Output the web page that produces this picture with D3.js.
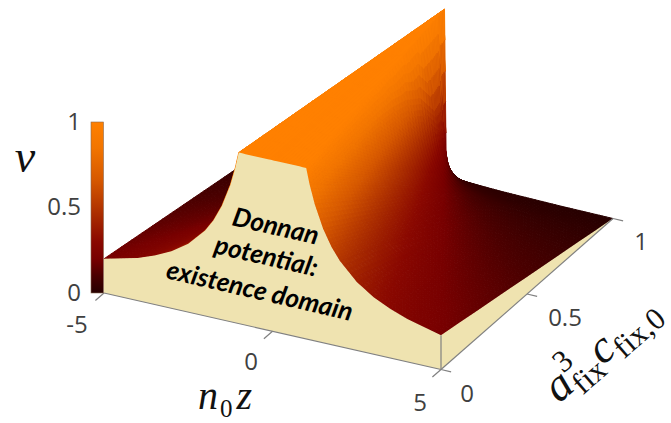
<!DOCTYPE html>
<html>
<head>
<meta charset="utf-8">
<script src="https://cdn.jsdelivr.net/npm/d3@7"></script>
<style>
body { margin: 0; background: #fff; }
svg { display: block; }
</style>
</head>
<body>
<div id="chart"></div>
<script>
// values
const zColumns = [0, 0.05, 0.1, 0.2, 0.3, 0.4, 0.5, 0.6, 0.7, 0.8, 0.9, 1, 1.1, 1.25, 1.5, 1.75, 2, 2.5, 3, 3.5, 4, 5];
const aRows = [0, 0.1, 0.2, 0.3, 0.4, 0.5, 0.6, 0.7, 0.8, 0.9, 0.95, 1];
// nu for z >= 0, the left half of the surface mirrors it
const nuRows = [
  [1, 1, 1, 1, 1, 1, 1, 1, 1, 1, 1, 1, 0.909, 0.8, 0.667, 0.571, 0.5, 0.4, 0.333, 0.286, 0.25, 0.2],
  [1, 1, 1, 1, 1, 1, 1, 1, 1, 1, 1, 0.9, 0.818, 0.72, 0.6, 0.514, 0.45, 0.36, 0.3, 0.257, 0.225, 0.18],
  [1, 1, 1, 1, 1, 1, 1, 1, 1, 1, 0.889, 0.8, 0.727, 0.64, 0.533, 0.457, 0.4, 0.32, 0.267, 0.229, 0.2, 0.16],
  [1, 1, 1, 1, 1, 1, 1, 1, 1, 0.875, 0.778, 0.7, 0.636, 0.56, 0.467, 0.4, 0.35, 0.28, 0.233, 0.2, 0.175, 0.14],
  [1, 1, 1, 1, 1, 1, 1, 1, 0.857, 0.75, 0.667, 0.6, 0.545, 0.48, 0.4, 0.343, 0.3, 0.24, 0.2, 0.171, 0.15, 0.12],
  [1, 1, 1, 1, 1, 1, 1, 0.833, 0.714, 0.625, 0.556, 0.5, 0.455, 0.4, 0.333, 0.286, 0.25, 0.2, 0.167, 0.143, 0.125, 0.1],
  [1, 1, 1, 1, 1, 1, 0.8, 0.667, 0.571, 0.5, 0.444, 0.4, 0.364, 0.32, 0.267, 0.229, 0.2, 0.16, 0.133, 0.114, 0.1, 0.08],
  [1, 1, 1, 1, 1, 0.75, 0.6, 0.5, 0.429, 0.375, 0.333, 0.3, 0.273, 0.24, 0.2, 0.171, 0.15, 0.12, 0.1, 0.086, 0.075, 0.06],
  [1, 1, 1, 1, 0.667, 0.5, 0.4, 0.333, 0.286, 0.25, 0.222, 0.2, 0.182, 0.16, 0.133, 0.114, 0.1, 0.08, 0.067, 0.057, 0.05, 0.04],
  [1, 1, 1, 0.5, 0.333, 0.25, 0.2, 0.167, 0.143, 0.125, 0.111, 0.1, 0.091, 0.08, 0.067, 0.057, 0.05, 0.04, 0.033, 0.029, 0.025, 0.02],
  [1, 1, 0.5, 0.25, 0.167, 0.125, 0.1, 0.083, 0.071, 0.063, 0.056, 0.05, 0.045, 0.04, 0.033, 0.029, 0.025, 0.02, 0.017, 0.014, 0.013, 0.01],
  [1, 0.1, 0.06, 0.035, 0.028, 0.024, 0.021, 0.02, 0.019, 0.018, 0.017, 0.016, 0.015, 0.014, 0.012, 0.01, 0.009, 0.007, 0.005, 0.003, 0.002, 0]
];
const colorStops = [0, 0.1, 0.2, 0.3, 0.45, 0.66, 0.85, 1];
const colorValues = ["#260000", "#4a0000", "#780000", "#8a0800", "#a82a00", "#d65800", "#f27500", "#ff8000"];
const zTicks = [-5, 0, 5];
const aTicks = [0, 0.5, 1];
const nuTicks = [0, 0.5, 1];
const noteLines = ["Donnan", "potential:", "existence domain"];

const width = 671, height = 423;
const wallColor = "#efe3b0";
const tickColor = "#808080";
const textColor = "#404040";

// oblique projection: each data axis moves the pixel by a fixed amount
const origin = { x: 104, y: 293 };
const zX = d3.scaleLinear().domain([-5, 5]).range([0, 337]);
const zY = d3.scaleLinear().domain([-5, 5]).range([0, 76.5]);
const aX = d3.scaleLinear().domain([0, 1]).range([0, 172]);
const aY = d3.scaleLinear().domain([0, 1]).range([0, -151]);
const nuY = d3.scaleLinear().domain([0, 1]).range([0, -171]);
const color = d3.scaleLinear().domain(colorStops).range(colorValues);

const project = (z, a, nu) => [
  origin.x + zX(z) + aX(a),
  origin.y + zY(z) + aY(a) + nuY(nu)
];

// full table with the mirrored left half
const zFull = zColumns.slice(1).reverse().map((z) => -z).concat(zColumns);
const nuFull = nuRows.map((row) => row.slice(1).reverse().concat(row));

const svg = d3.select("#chart").append("svg")
  .attr("width", width)
  .attr("height", height)
  .style("font-family", "'Open Sans', sans-serif");

/****** surface, painted from the far corner to the near one ******/
const surface = svg.append("g");

// stroke of 1 so the far floor does not shine through the seams
const drawPatch = (pts) => {
  const fill = color(d3.mean(pts, (d) => d[2]));
  surface.append("polygon")
    .attr("points", pts.map((d) => project(d[0], d[1], d[2]).join(",")).join(" "))
    .attr("fill", fill)
    .attr("stroke", fill)
    .attr("stroke-width", 1);
};

const aSteps = 5;
for (let r = aRows.length - 2; r >= 0; r--) {
  for (let c = 0; c < zFull.length - 1; c++) {
    const rightHalf = zFull[c] >= 0;
    const n00 = nuFull[r][c], n01 = nuFull[r][c + 1];
    const n10 = nuFull[r + 1][c], n11 = nuFull[r + 1][c + 1];
    const dz = zFull[c + 1] - zFull[c];
    const cellMax = Math.max(n00, n01, n10, n11);
    const cellMin = Math.min(n00, n01, n10, n11);
    const zAt = (tj) => zFull[c] + tj * dz;
    const aAt = (ti) => aRows[r] + ti * (aRows[r + 1] - aRows[r]);

    // flat top: one patch is enough
    if (cellMin === 1) {
      drawPatch([[zAt(0), aAt(0), 1], [zAt(1), aAt(0), 1], [zAt(1), aAt(1), 1], [zAt(0), aAt(1), 1]]);
      continue;
    }

    // cell on the edge of the flat top: cut along that edge so it stays straight
    const onEdge = cellMax === 1;
    const zSteps = onEdge ? aSteps : Math.max(aSteps, Math.ceil(dz / 0.1));
    const corner = (ti, tj) => {
      let nu;
      if (!onEdge) {
        nu = (1 - ti) * ((1 - tj) * n00 + tj * n01) + ti * ((1 - tj) * n10 + tj * n11);
      } else if (rightHalf) {
        nu = ti + tj <= 1
          ? n00 + ti * (n10 - n00) + tj * (n01 - n00)
          : n11 + (1 - ti) * (n01 - n11) + (1 - tj) * (n10 - n11);
      } else {
        nu = tj >= ti
          ? n00 + tj * (n01 - n00) + ti * (n11 - n01)
          : n00 + ti * (n10 - n00) + tj * (n11 - n10);
      }
      return [zAt(tj), aAt(ti), nu];
    };

    for (let i = aSteps - 1; i >= 0; i--) {
      for (let j = 0; j < zSteps; j++) {
        const p00 = corner(i / aSteps, j / zSteps);
        const p01 = corner(i / aSteps, (j + 1) / zSteps);
        const p10 = corner((i + 1) / aSteps, j / zSteps);
        const p11 = corner((i + 1) / aSteps, (j + 1) / zSteps);
        if (!onEdge) {
          drawPatch([p00, p01, p11, p10]);
        } else if (rightHalf) {
          drawPatch([p00, p01, p10]);
          drawPatch([p01, p11, p10]);
        } else {
          drawPatch([p00, p10, p11]);
          drawPatch([p00, p01, p11]);
        }
      }
    }
  }
}

/****** cream walls at a = 0 and z = 5 ******/
const frontWall = zFull.map((z, c) => project(z, 0, nuFull[0][c]));
frontWall.push(project(5, 0, 0), project(-5, 0, 0));
svg.append("polygon")
  .attr("points", frontWall.map((d) => d.join(",")).join(" "))
  .attr("fill", wallColor);

const lastCol = zFull.length - 1;
const sideWall = aRows.map((a, r) => project(5, a, nuFull[r][lastCol]));
sideWall.push(project(5, 1, 0), project(5, 0, 0));
svg.append("polygon")
  .attr("points", sideWall.map((d) => d.join(",")).join(" "))
  .attr("fill", wallColor);

/****** axes ******/
const line = (p, q, w) => svg.append("line")
  .attr("x1", p[0]).attr("y1", p[1])
  .attr("x2", q[0]).attr("y2", q[1])
  .attr("stroke", tickColor)
  .attr("stroke-width", w || 1.2);

line(project(-5, 0, 0), project(5, 0, 0));
line(project(5, 0, 0), project(5, 1, 0));
line(project(5, 0, 0), project(5, 0, nuFull[0][lastCol]));

zTicks.forEach((z) => line(project(z, 0, 0), project(z, -0.05, 0)));
aTicks.forEach((a) => line(project(5, a, 0), project(5.3, a, 0)));

const tick = (label, x, y) => svg.append("text")
  .text(label)
  .attr("x", x)
  .attr("y", y)
  .attr("text-anchor", "middle")
  .attr("dominant-baseline", "central")
  .attr("font-size", 24)
  .attr("fill", textColor);

const zLabelPos = { "-5": [77, 323], "0": [251, 360], "5": [420, 401] };
zTicks.forEach((z) => tick(String(z), zLabelPos[z][0], zLabelPos[z][1]));
const aLabelPos = { "0": [467, 392], "0.5": [565, 316], "1": [641, 240] };
aTicks.forEach((a) => tick(String(a), aLabelPos[a][0], aLabelPos[a][1]));

/****** colorbar ******/
const barY = d3.scaleLinear().domain([0, 1]).range([293, 122]);
const defs = svg.append("defs");
const grad = defs.append("linearGradient")
  .attr("id", "nuGrad")
  .attr("x1", 0).attr("y1", 1).attr("x2", 0).attr("y2", 0);
colorStops.forEach((s, i) => grad.append("stop")
  .attr("offset", s)
  .attr("stop-color", colorValues[i]));
svg.append("rect")
  .attr("x", 91)
  .attr("y", barY(1))
  .attr("width", 12.5)
  .attr("height", barY(0) - barY(1))
  .attr("fill", "url(#nuGrad)")
  .attr("stroke", "#8a6a50")
  .attr("stroke-width", 0.6);
nuTicks.forEach((v) => svg.append("text")
  .text(v)
  .attr("x", 81)
  .attr("y", barY(v) - 2)
  .attr("text-anchor", "end")
  .attr("dominant-baseline", "central")
  .attr("font-size", 24)
  .attr("fill", textColor));

/****** math labels ******/
const mathFont = "'Liberation Serif', 'DejaVu Serif', serif";
svg.append("text")
  .text("ν")
  .attr("x", 25)
  .attr("y", 172)
  .attr("text-anchor", "middle")
  .attr("font-family", mathFont)
  .attr("font-style", "italic")
  .attr("font-size", 46)
  .attr("fill", "#111");

const zLabel = svg.append("text")
  .attr("x", 198)
  .attr("y", 409)
  .attr("font-family", mathFont)
  .attr("font-size", 40)
  .attr("fill", "#111");
zLabel.append("tspan").text("n").attr("font-style", "italic");
zLabel.append("tspan").text("0").attr("font-size", 25).attr("dx", 2).attr("dy", 8);
zLabel.append("tspan").text("z").attr("font-style", "italic").attr("dx", 4).attr("dy", -8);

const aLabel = svg.append("text")
  .attr("transform", "translate(559,404) rotate(-41)")
  .attr("font-family", mathFont)
  .attr("font-size", 46)
  .attr("fill", "#111");
aLabel.append("tspan").text("a").attr("font-style", "italic");
aLabel.append("tspan").text("3").attr("font-size", 31).attr("dy", -20);
aLabel.append("tspan").text("fix").attr("font-size", 31).attr("dx", -15).attr("dy", 29);
aLabel.append("tspan").text("c").attr("font-style", "italic").attr("dy", -9);
aLabel.append("tspan").text("fix,0").attr("font-size", 31).attr("dy", 9);

/****** note on the wall ******/
const notePos = [[231, 225], [213, 253], [165, 278]];
noteLines.forEach((t, i) => svg.append("text")
  .text(t)
  .attr("transform", `translate(${notePos[i][0]},${notePos[i][1]}) rotate(13)`)
  .attr("font-family", "Lato, 'Open Sans', sans-serif")
  .attr("font-weight", "bold")
  .attr("font-style", "italic")
  .attr("font-size", 26)
  .attr("fill", "#000"));
</script>
</body>
</html>
